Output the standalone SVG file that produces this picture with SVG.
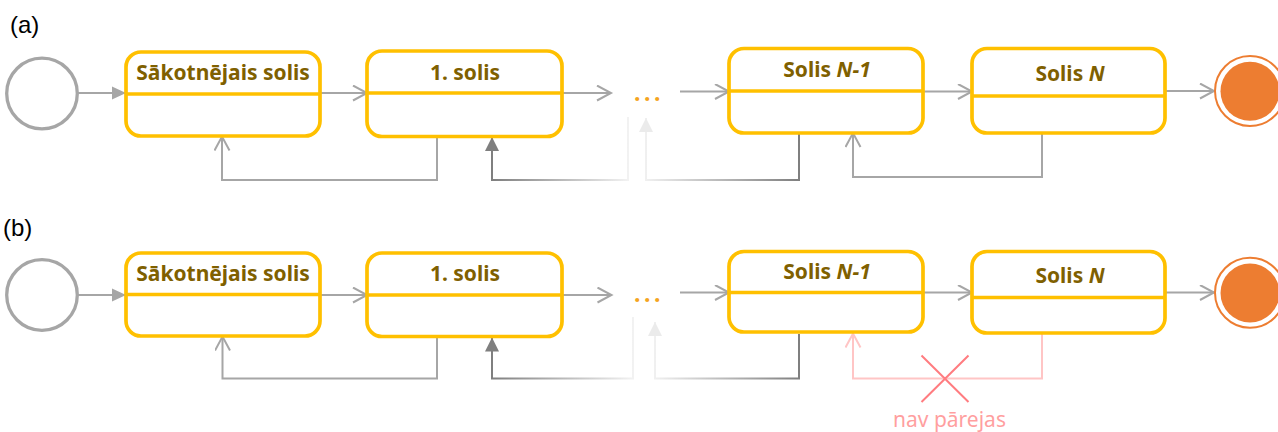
<svg xmlns="http://www.w3.org/2000/svg" width="1278" height="432" viewBox="0 0 1278 432">
<style>
.box{fill:#FFFFFF;stroke:#FFC000;stroke-width:3.7}
.div{stroke:#FFC000;stroke-width:3.7;fill:none}
.lbl{font-family:"Noto Sans","Open Sans",sans-serif;font-weight:bold;font-size:21px;fill:#7F6000;text-anchor:middle}
.it{font-style:italic}
.tag{font-family:"Liberation Sans",Arial,sans-serif;font-size:24px;fill:#000000}
.ln{fill:none;stroke:#A6A6A6;stroke-width:2}
.dots{font-family:"Noto Sans",sans-serif;font-weight:bold;font-size:23px;fill:#F4A51E;letter-spacing:3.5px}
.start{fill:#FFFFFF;stroke:#A6A6A6;stroke-width:3.3}
.endo{fill:#FFFFFF;stroke:#ED7D31;stroke-width:2}
.endi{fill:#ED7D31}
.no{font-family:"Noto Sans","Open Sans",sans-serif;font-size:21px;fill:#FF9F9F;text-anchor:middle}
</style>
<defs>
<marker id="open" markerUnits="userSpaceOnUse" markerWidth="18" markerHeight="18" viewBox="0 0 18 18" refX="15" refY="8" orient="auto">
<path d="M1,0.5 L15,8 L1,15.5" fill="none" stroke="#A6A6A6" stroke-width="2"/>
</marker>
<marker id="openpink" markerUnits="userSpaceOnUse" markerWidth="18" markerHeight="18" viewBox="0 0 18 18" refX="15" refY="8" orient="auto">
<path d="M1,0.5 L15,8 L1,15.5" fill="none" stroke="#FFC5C5" stroke-width="2"/>
</marker>
<marker id="fill" markerUnits="userSpaceOnUse" markerWidth="16" markerHeight="16" viewBox="0 0 16 16" refX="14" refY="7" orient="auto">
<path d="M0,0.5 L14,7 L0,13.5 Z" fill="#A6A6A6"/>
</marker>
<marker id="filldark" markerUnits="userSpaceOnUse" markerWidth="16" markerHeight="16" viewBox="0 0 16 16" refX="14" refY="7" orient="auto">
<path d="M0,0 L14,7 L0,14 Z" fill="#7F7F7F"/>
</marker>
<marker id="filllight" markerUnits="userSpaceOnUse" markerWidth="16" markerHeight="16" viewBox="0 0 16 16" refX="14" refY="7" orient="auto">
<path d="M0,0 L14,7 L0,14 Z" fill="#EBEBEB"/>
</marker>
<linearGradient id="gA2" gradientUnits="userSpaceOnUse" x1="492" y1="0" x2="628" y2="0">
<stop offset="0" stop-color="#7F7F7F"/><stop offset="1" stop-color="#F2F2F2"/>
</linearGradient>
<linearGradient id="gA3" gradientUnits="userSpaceOnUse" x1="646" y1="0" x2="799" y2="0">
<stop offset="0" stop-color="#F0F0F0"/><stop offset="1" stop-color="#7F7F7F"/>
</linearGradient>
<linearGradient id="gB2" gradientUnits="userSpaceOnUse" x1="492" y1="0" x2="633" y2="0">
<stop offset="0" stop-color="#7F7F7F"/><stop offset="1" stop-color="#F2F2F2"/>
</linearGradient>
<linearGradient id="gB3" gradientUnits="userSpaceOnUse" x1="655" y1="0" x2="799" y2="0">
<stop offset="0" stop-color="#F0F0F0"/><stop offset="1" stop-color="#7F7F7F"/>
</linearGradient>
</defs>
<rect width="1278" height="432" fill="#FFFFFF"/>

<text class="tag" x="10" y="33">(a)</text>
<text class="tag" x="3" y="236">(b)</text>

<g id="connectors">
<!-- row a -->
<path class="ln" d="M78,93 H126" marker-end="url(#fill)"/>
<path class="ln" d="M320,93 H367" marker-end="url(#open)"/>
<path class="ln" d="M562,93 H611" marker-end="url(#open)"/>
<path class="ln" d="M680,91.5 H729" marker-end="url(#open)"/>
<path class="ln" d="M923,91.5 H972" marker-end="url(#open)"/>
<path class="ln" d="M1165,91 H1214" marker-end="url(#open)"/>
<path class="ln" d="M437,137 V180 H222 V136.5" marker-end="url(#open)"/>
<path class="ln" d="M628,117 V180 H492 V137" style="stroke:url(#gA2)" marker-end="url(#filldark)"/>
<path class="ln" d="M799,133 V180 H646 V118" style="stroke:url(#gA3)" marker-end="url(#filllight)"/>
<path class="ln" d="M1042,133.5 V177 H853 V133" marker-end="url(#open)"/>
<!-- row b -->
<path class="ln" d="M78,295 H126" marker-end="url(#fill)"/>
<path class="ln" d="M320,295 H367" marker-end="url(#open)"/>
<path class="ln" d="M562,295 H611.5" marker-end="url(#open)"/>
<path class="ln" d="M680,292.5 H729" marker-end="url(#open)"/>
<path class="ln" d="M923,292.5 H972" marker-end="url(#open)"/>
<path class="ln" d="M1165,292.5 H1214" marker-end="url(#open)"/>
<path class="ln" d="M437,338 V378.5 H222.5 V336.5" marker-end="url(#open)"/>
<path class="ln" d="M633,317 V378.5 H492 V337.5" style="stroke:url(#gB2)" marker-end="url(#filldark)"/>
<path class="ln" d="M799,334 V378.5 H655 V322" style="stroke:url(#gB3)" marker-end="url(#filllight)"/>
<path class="ln" d="M1042,334 V378.5 H853 V333.5" style="stroke:#FFC5C5" marker-end="url(#openpink)"/>
<path d="M921.5,355.5 L968.5,402 M968.5,355.5 L921.5,402" fill="none" stroke="#FF7C80" stroke-width="2"/>
<text class="no" x="949.5" y="427">nav pārejas</text>
</g>

<g id="a-start"><circle class="start" cx="42" cy="93.5" r="35.3"/></g>
<g id="a-s0">
<rect class="box" x="126" y="52" width="194" height="84" rx="15"/>
<line class="div" x1="126" y1="94" x2="320" y2="94"/>
<text class="lbl" x="223" y="80">Sākotnējais solis</text>
</g>
<g id="a-s1">
<rect class="box" x="367" y="51" width="195" height="85.5" rx="15"/>
<line class="div" x1="367" y1="93" x2="562" y2="93"/>
<text class="lbl" x="465" y="80">1. solis</text>
</g>
<g id="a-dots"><text class="dots" x="634" y="101">...</text></g>
<g id="a-sn1">
<rect class="box" x="729" y="48.5" width="194" height="84.5" rx="15"/>
<line class="div" x1="729" y1="91" x2="923" y2="91"/>
<text class="lbl" x="827" y="76.5">Solis <tspan class="it">N-1</tspan></text>
</g>
<g id="a-sn">
<rect class="box" x="972" y="48.5" width="193" height="84.5" rx="15"/>
<line class="div" x1="972" y1="96" x2="1165" y2="96"/>
<text class="lbl" x="1070" y="81">Solis <tspan class="it">N</tspan></text>
</g>
<g id="a-end">
<circle class="endo" cx="1250" cy="91" r="35"/>
<circle class="endi" cx="1250" cy="91.3" r="29.5"/>
</g>

<g id="b-start"><circle class="start" cx="42" cy="295" r="35.3"/></g>
<g id="b-s0">
<rect class="box" x="126" y="253" width="194" height="83" rx="15"/>
<line class="div" x1="126" y1="294.5" x2="320" y2="294.5"/>
<text class="lbl" x="223" y="281">Sākotnējais solis</text>
</g>
<g id="b-s1">
<rect class="box" x="367" y="253" width="195" height="83.5" rx="15"/>
<line class="div" x1="367" y1="295" x2="562" y2="295"/>
<text class="lbl" x="465" y="281">1. solis</text>
</g>
<g id="b-dots"><text class="dots" x="634" y="302">...</text></g>
<g id="b-sn1">
<rect class="box" x="729" y="251.5" width="194" height="80.5" rx="15"/>
<line class="div" x1="729" y1="292.5" x2="923" y2="292.5"/>
<text class="lbl" x="827" y="278.5">Solis <tspan class="it">N-1</tspan></text>
</g>
<g id="b-sn">
<rect class="box" x="972" y="251.5" width="193" height="81.5" rx="15"/>
<line class="div" x1="972" y1="297.5" x2="1165" y2="297.5"/>
<text class="lbl" x="1070" y="282.5">Solis <tspan class="it">N</tspan></text>
</g>
<g id="b-end">
<circle class="endo" cx="1250" cy="292.7" r="35"/>
<circle class="endi" cx="1250" cy="293" r="29.5"/>
</g>
</svg>
